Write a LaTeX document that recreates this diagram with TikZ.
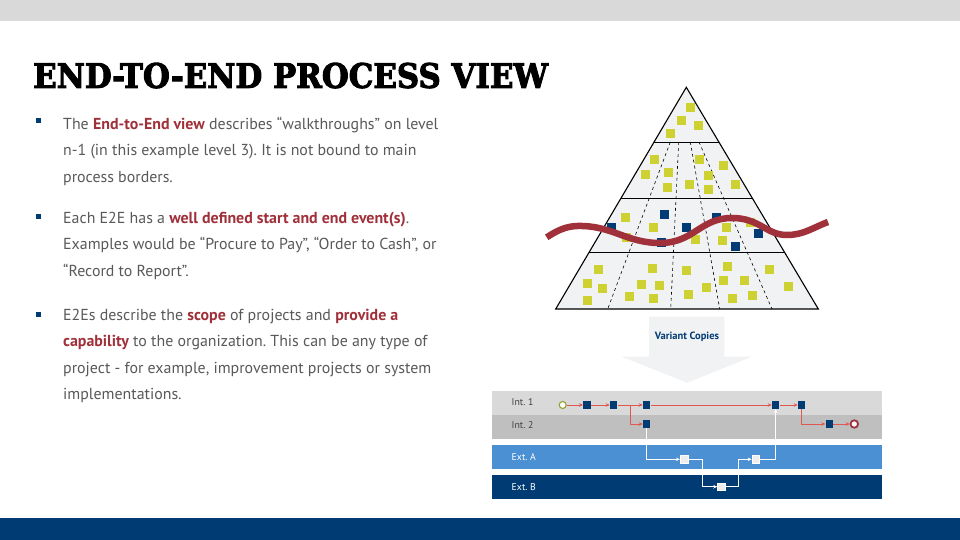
\documentclass[tikz,border=0pt]{standalone}
\usepackage{fontspec}
\usepackage{graphicx}
\setmainfont{PT Sans}
\newfontfamily\titlefont{DejaVu Serif}[UprightFont={* Bold}, FakeBold=3]
\usetikzlibrary{arrows.meta,calc}
\frenchspacing

\definecolor{navy}{HTML}{003B73}
\definecolor{lime}{HTML}{CDD232}
\definecolor{wine}{HTML}{A0303A}
\definecolor{textgray}{HTML}{595959}
\definecolor{paleback}{HTML}{F1F2F4}
\definecolor{lanelight}{HTML}{D9D9D9}
\definecolor{lanemid}{HTML}{BFBFBF}
\definecolor{laneblue}{HTML}{4A90D2}
\definecolor{flowred}{HTML}{E0574F}
\definecolor{olive}{HTML}{8FA030}

\newcommand\keyword[1]{\textbf{\textcolor{wine}{#1}}}

\tikzset{
    box/.style = {rectangle, minimum size=9pt, inner sep=0pt},
    greenbox/.style = {box, fill=lime},
    navybox/.style = {box, fill=navy},
    task/.style = {rectangle, minimum size=7.5pt, inner sep=0pt, fill=navy},
    extask/.style = {task, fill=black!7, draw=white, line width=0.5pt},
    startevent/.style = {circle, minimum size=7pt, inner sep=0pt, draw=olive, line width=1.1pt, fill=white},
    endevent/.style = {circle, minimum size=7.5pt, inner sep=0pt, draw=wine, line width=1.8pt, fill=white},
    redflow/.style = {draw=flowred, line width=0.9pt, -{Stealth[length=4pt, width=3.5pt]}},
    whiteflow/.style = {draw=white, line width=1pt, -{Stealth[length=4pt, width=3.5pt]}},
    lanelabel/.style = {anchor=west, inner sep=0pt, font=\fontsize{9.8}{10}\selectfont},
    bulletbox/.style = {rectangle, minimum size=5pt, inner sep=0pt, fill=navy},
    body/.style = {anchor=north west, align=left, inner sep=0pt, text=textgray, font=\fontsize{15.9}{26.5}\selectfont}
}

\begin{document}
\begin{tikzpicture}[x=1pt, y=-1pt]
        \useasboundingbox (0,0) rectangle (960,540);
        % page bars
        \fill[white] (0,0) rectangle (960,540);
        \fill[lanelight] (0,0) rectangle (960,21);
        \fill[navy] (0,518) rectangle (960,540);

        % title
        \node[anchor=south west, inner sep=0pt] (title) at (33,88.5)
            {\resizebox{515pt}{25pt}{\titlefont END-TO-END PROCESS VIEW}};

        % bullet points
        \node[bulletbox] (bullet-1) at (38,121) {};
        \node[bulletbox] (bullet-2) at (38,216) {};
        \node[bulletbox] (bullet-3) at (38,314) {};
        \node[body] (text-1) at (63,116.5) {The \keyword{End-to-End view} describes “walkthroughs” on level\\
            n-1 (in this example level 3). It is not bound to main\\
            process borders.};
        \node[body] (text-2) at (63,211.5) {Each E2E has a \keyword{well defined start and end event(s)}.\\
            Examples would be “Procure to Pay”, “Order to Cash”, or\\
            “Record to Report”.};
        \node[body] (text-3) at (63,308.5) {E2Es describe the \keyword{scope} of projects and \keyword{provide a}\\
            \keyword{capability} to the organization. This can be any type of\\
            project - for example, improvement projects or system\\
            implementations.};

        % pyramid
        \coordinate (apex) at (686.3,87.3);
        \coordinate (base-left) at (555.7,309);
        \coordinate (base-right) at (818.3,309);
        \filldraw[fill=paleback, draw=black, line width=1.1pt] (apex) -- (base-right) -- (base-left) -- cycle;
        \foreach \t in {0.247, 0.5, 0.747}
            \draw[line width=1.1pt] ($(apex)!\t!(base-left)$) -- ($(apex)!\t!(base-right)$);
        \foreach \a/\b in {670.3/607.7, 678.7/670.7, 690.3/719.7, 699/772}
            \draw[dashed, line width=0.6pt] (\a,142) -- (\b,309);
        \foreach \x/\y in {690/107.3, 681.3/121, 698.7/125.3, 670.7/134,
                654/159.3, 699.7/159.3, 723.7/166, 645.3/174.3, 668.3/172.3, 708/175.7,
                689.3/184.3, 667.3/187.7, 708/189.3, 735/184.3,
                625.7/217.3, 653.7/227, 626/237.3, 695.3/239.3, 722/240, 726.3/227, 750/222,
                598.7/269.3, 652/268.7, 686.3/270, 727.7/266, 769.7/269, 587/283.3, 602.3/288.7,
                641.7/284, 659.3/285, 706.3/287.3, 723.7/280, 744.3/280, 788.3/286.3,
                587.7/300.7, 629/296.3, 653.3/298.3, 688.7/294.7, 732/298.7, 752.7/295}
            \node[greenbox] at (\x,\y) {};
        \foreach \x/\y in {664/214, 716.7/217, 611.3/227.3, 686.3/227, 758.7/233.3, 661.3/242.3, 735/246.7}
            \node[navybox] at (\x,\y) {};
        % wave across the pyramid
        \draw[wine, line width=6.5pt]
            (546.7,237.3) .. controls (558,230) and (566,226.5) .. (577,226)
            .. controls (612,225) and (626,243) .. (660,243)
            .. controls (694,243) and (700,218) .. (732,218)
            .. controls (760,218) and (766,235) .. (787,235)
            .. controls (804,235) and (814,227) .. (828,222);

        % variant copies arrow
        \fill[paleback] (649,316.7) -- (724.3,316.7) -- (724.3,356.7) -- (751.7,356.7)
            -- (687.3,382.7) -- (621.7,356.7) -- (649,356.7) -- cycle;
        \node[font=\fontsize{10.5}{11}\selectfont\bfseries, text=navy] (variant) at (687,337) {Variant Copies};

        % swim lanes
        \fill[lanelight] (491.7,391) rectangle (881.7,415);
        \fill[lanemid] (491.7,415) rectangle (881.7,439);
        \fill[laneblue] (491.7,445) rectangle (881.7,468.7);
        \fill[navy] (491.7,475) rectangle (881.7,499);
        \node[lanelabel, text=black!75] (label-int1) at (511.5,402) {Int. 1};
        \node[lanelabel, text=black!75] (label-int2) at (511.5,425) {Int. 2};
        \node[lanelabel, text=white] (label-exta) at (511.5,457) {Ext. A};
        \node[lanelabel, text=white] (label-extb) at (511.5,487) {Ext. B};

        % place process steps
        \node[startevent] (start) at (562.7,405) {};
        \node[task] (int1-1) at (587,405) {};
        \node[task] (int1-2) at (613.7,405) {};
        \node[task] (int1-3) at (646.7,405) {};
        \node[task] (int1-4) at (775.7,405) {};
        \node[task] (int1-5) at (801.7,405) {};
        \node[task] (int2-1) at (646.7,424) {};
        \node[task] (int2-2) at (829.3,424) {};
        \node[endevent] (end) at (854.3,424) {};
        \node[extask] (exta-1) at (684,459.3) {};
        \node[extask] (exta-2) at (755.7,459.3) {};
        \node[extask] (extb-1) at (721.3,486.7) {};
        \coordinate (split) at (630,405);
        \coordinate (bend-1) at (702.3,473);
        \coordinate (bend-2) at (738.3,473);

        % internal flow
        \draw[redflow] (start) -- (int1-1);
        \draw[redflow] (int1-1) -- (int1-2);
        \draw[redflow] (int1-2) -- (int1-3);
        \draw[redflow] (int1-3) -- (int1-4);
        \draw[redflow] (int1-4) -- (int1-5);
        \draw[redflow] (split) |- (int2-1);
        \draw[redflow] (int1-5) |- (int2-2);
        \draw[redflow] (int2-2) -- (end);
        % external flow
        \draw[whiteflow] (int2-1) |- (exta-1);
        \draw[whiteflow] (exta-1) -| (bend-1) |- (extb-1);
        \draw[whiteflow] (extb-1) -| (bend-2) |- (exta-2);
        \draw[whiteflow] (exta-2) -| (int1-4);
    \end{tikzpicture}
\end{document}
